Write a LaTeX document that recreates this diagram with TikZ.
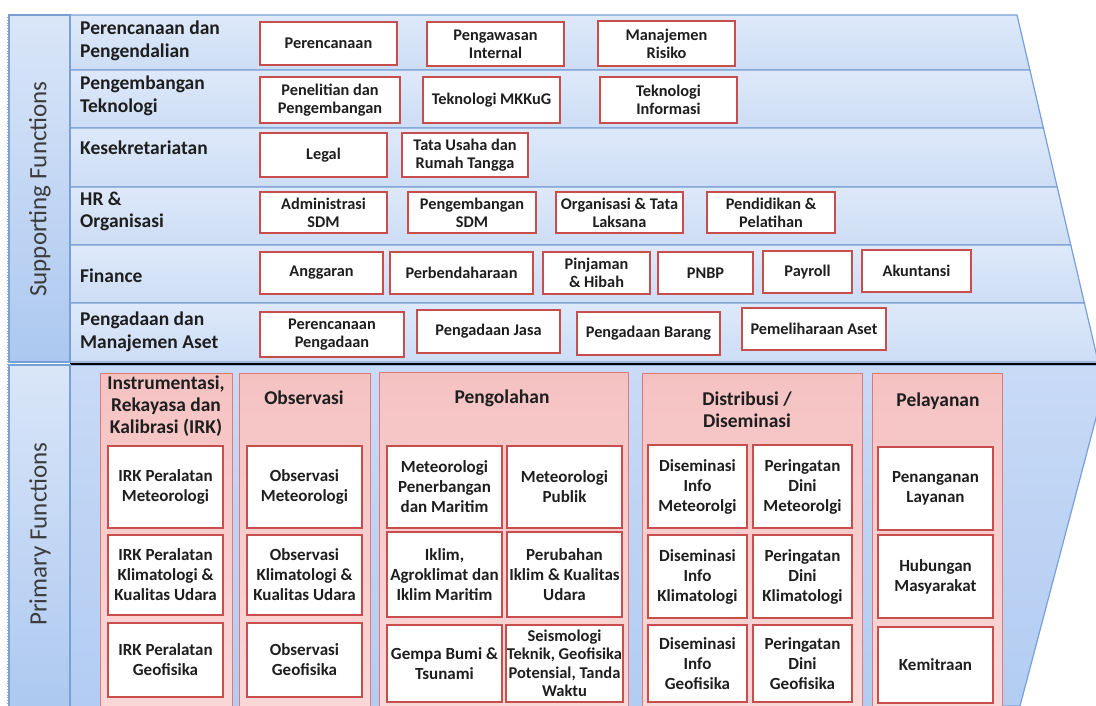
\documentclass[tikz,border=0pt]{standalone}
\usepackage{fontspec}
\setmainfont{Carlito}
\definecolor{rowtop}{RGB}{222,233,250}
\definecolor{rowbot}{RGB}{205,221,245}
\definecolor{lineblue}{RGB}{120,160,212}
\definecolor{boxred}{RGB}{200,78,78}
\definecolor{colfill}{RGB}{250,216,216}
\definecolor{coltop}{RGB}{245,194,194}
\definecolor{colline}{RGB}{226,120,120}
\definecolor{txt}{RGB}{30,30,30}
\definecolor{sidetxt}{RGB}{60,60,60}
\definecolor{sidetop}{RGB}{218,230,248}
\definecolor{sidebot}{RGB}{172,200,240}
\definecolor{primtop}{RGB}{200,218,246}
\definecolor{primbot}{RGB}{178,204,242}
\newcommand\mybox[7]{\node[#1, minimum width={(#4-#2)*1pt}, minimum height={(#5-#3)*1pt}] (#6) at ({(#2+#4)/2},{(#3+#5)/2}) {#7};}
\begin{document}
\begin{tikzpicture}[x=1pt,y=-1pt,
  sb/.style={draw=boxred, line width=1.8pt, fill=white, inner sep=1pt, align=center, text=txt, font=\fontsize{16.3}{18}\selectfont\bfseries},
  pb/.style={sb, font=\fontsize{17}{20}\selectfont\bfseries},
  pbs/.style={sb, font=\fontsize{16.5}{18.5}\selectfont\bfseries},
  colbox/.style={draw=colline, line width=1pt, top color=coltop, bottom color=colfill, inner sep=0},
  rowlab/.style={anchor=base west, inner sep=0, align=left, text=txt, font=\fontsize{19.5}{23}\selectfont\bfseries},
  coltitle/.style={inner sep=0, align=center, text=txt, font=\fontsize{19.5}{22}\selectfont\bfseries},
  sidelab/.style={rotate=90, inner sep=0, text=sidetxt, font=\fontsize{25}{28}\selectfont},
  rowbg/.style={draw=lineblue, line width=1.2pt, top color=rowtop, bottom color=rowbot}]
\useasboundingbox (0,0) rectangle (1096,706);
\clip (0,0) rectangle (1096,706);
% dotted frame edge
\draw[gray!70, dotted, line width=0.8pt] (7,17) -- (7,706);
% supporting rows
\shade[rowbg] (70,15) -- (1017,15) -- (1029.9,70) -- (70,70) -- cycle;
\shade[rowbg] (70,70) -- (1029.9,70) -- (1043.4,128) -- (70,128) -- cycle;
\shade[rowbg] (70,128) -- (1043.4,128) -- (1057.2,187) -- (70,187) -- cycle;
\shade[rowbg] (70,187) -- (1057.2,187) -- (1070.8,245) -- (70,245) -- cycle;
\shade[rowbg] (70,245) -- (1070.8,245) -- (1084.4,303) -- (70,303) -- cycle;
\shade[rowbg] (70,303) -- (1084.4,303) -- (1098.2,362) -- (70,362) -- cycle;
% primary region
\shade[draw=lineblue, line width=1.2pt, top color=primtop, bottom color=primbot] (70,365) -- (1110,365) -- (1020,706) -- (70,712) -- cycle;
\draw[black, line width=2.4pt] (70,364) -- (1110,364);
% side label columns
\shade[draw=lineblue, line width=1.2pt, top color=sidetop, bottom color=sidebot] (9,15) rectangle (70,362);
\shade[draw=lineblue, line width=1.2pt, top color=sidetop, bottom color=sidebot] (9,365) rectangle (70,712);
\node[sidelab] (suplab) at (40,189) {Supporting Functions};
\node[sidelab] (primlab) at (40,534) {Primary Functions};
% row labels
\node[rowlab] (r1) at (80,58) {Perencanaan dan\\Pengendalian};
\node[rowlab] (r2) at (80,113) {Pengembangan\\Teknologi};
\node[rowlab] (r3) at (80,155) {Kesekretariatan};
\node[rowlab] (r4) at (80,228) {HR \&\\Organisasi};
\node[rowlab] (r5) at (80,282) {Finance};
\node[rowlab] (r6) at (80,348) {Pengadaan dan\\Manajemen Aset};
% supporting boxes
\mybox{sb}{260}{22}{397}{65}{perenc}{Perencanaan}
\mybox{sb}{427}{22}{564}{66}{pengaw}{Pengawasan\\Internal}
\mybox{sb}{598}{21}{735}{66}{manris}{Manajemen\\Risiko}
\mybox{sb}{260}{77}{400}{123}{litbang}{Penelitian dan\\Pengembangan}
\mybox{sb}{423}{77}{560}{123}{tekmkg}{Teknologi MKKuG}
\mybox{sb}{600}{77}{737}{123}{tekinf}{Teknologi\\Informasi}
\mybox{sb}{260}{133}{387}{177}{legal}{Legal}
\mybox{sb}{402}{133}{528}{177}{tu}{Tata Usaha dan\\Rumah Tangga}
\mybox{sb}{260}{192}{387}{233}{adm}{Administrasi\\SDM}
\mybox{sb}{408}{192}{536}{233}{pengsdm}{Pengembangan\\SDM}
\mybox{sb}{556}{192}{683}{233}{ortala}{Organisasi \& Tata\\Laksana}
\mybox{sb}{707}{192}{835}{233}{diklat}{Pendidikan \&\\Pelatihan}
\mybox{sb}{260}{252}{383}{294}{angg}{Anggaran}
\mybox{sb}{390}{252}{533}{294}{perbend}{Perbendaharaan}
\mybox{sb}{543}{252}{650}{294}{pinj}{Pinjaman\\\& Hibah}
\mybox{sb}{658}{252}{753}{294}{pnbp}{PNBP}
\mybox{sb}{763}{251}{852}{293}{payroll}{Payroll}
\mybox{sb}{862}{250}{971}{292}{akun}{Akuntansi}
\mybox{sb}{260}{312}{404}{357}{renpeng}{Perencanaan\\Pengadaan}
\mybox{sb}{417}{310}{560}{353}{jasa}{Pengadaan Jasa}
\mybox{sb}{577}{312}{720}{355}{barang}{Pengadaan Barang}
\mybox{sb}{742}{308}{886}{350}{aset}{Pemeliharaan Aset}
% primary columns
\mybox{colbox}{100}{373}{232}{712}{irk}{}
\mybox{colbox}{239}{373}{370}{712}{obs}{}
\mybox{colbox}{379}{372}{628}{712}{olah}{}
\mybox{colbox}{642}{373}{862}{712}{dist}{}
\mybox{colbox}{872}{373}{1002}{712}{pel}{}
\node[coltitle] (tirk) at (166,406) {Instrumentasi,\\Rekayasa dan\\Kalibrasi (IRK)};
\node[coltitle] (tobs) at (304,398) {Observasi};
\node[coltitle] (tolah) at (502,398) {Pengolahan};
\node[coltitle] (tdist) at (747,410) {Distribusi /\\Diseminasi};
\node[coltitle] (tpel) at (938,401) {Pelayanan};
% IRK
\mybox{pb}{108}{446}{223}{528}{irk1}{IRK Peralatan\\Meteorologi}
\mybox{pb}{108}{535}{223}{615}{irk2}{IRK Peralatan\\Klimatologi \&\\Kualitas Udara}
\mybox{pb}{108}{623}{223}{697}{irk3}{IRK Peralatan\\Geofisika}
% Observasi
\mybox{pb}{247}{446}{362}{528}{obs1}{Observasi\\Meteorologi}
\mybox{pb}{247}{535}{362}{615}{obs2}{Observasi\\Klimatologi \&\\Kualitas Udara}
\mybox{pb}{247}{623}{362}{697}{obs3}{Observasi\\Geofisika}
% Pengolahan
\mybox{pb}{387}{446}{502}{528}{olah1}{Meteorologi\\Penerbangan\\dan Maritim}
\mybox{pb}{507}{446}{622}{528}{olah2}{Meteorologi\\Publik}
\mybox{pb}{387}{532}{502}{617}{olah3}{Iklim,\\Agroklimat dan\\Iklim Maritim}
\mybox{pb}{507}{532}{622}{617}{olah4}{Perubahan\\Iklim \& Kualitas\\Udara}
\mybox{pb}{387}{625}{502}{702}{olah5}{Gempa Bumi \&\\Tsunami}
\mybox{pbs}{507}{625}{622}{702}{olah6}{Seismologi\\Teknik, Geofisika\\Potensial, Tanda\\Waktu}
% Distribusi
\mybox{pb}{648}{445}{747}{528}{dist1}{Diseminasi\\Info\\Meteorolgi}
\mybox{pb}{753}{445}{852}{528}{dist2}{Peringatan\\Dini\\Meteorolgi}
\mybox{pb}{648}{535}{747}{618}{dist3}{Diseminasi\\Info\\Klimatologi}
\mybox{pb}{753}{535}{852}{618}{dist4}{Peringatan\\Dini\\Klimatologi}
\mybox{pb}{648}{625}{747}{702}{dist5}{Diseminasi\\Info\\Geofisika}
\mybox{pb}{753}{625}{852}{702}{dist6}{Peringatan\\Dini\\Geofisika}
% Pelayanan
\mybox{pb}{878}{447}{993}{530}{pel1}{Penanganan\\Layanan}
\mybox{pb}{878}{535}{993}{618}{pel2}{Hubungan\\Masyarakat}
\mybox{pb}{878}{627}{993}{703}{pel3}{Kemitraan}
\end{tikzpicture}
\end{document}
